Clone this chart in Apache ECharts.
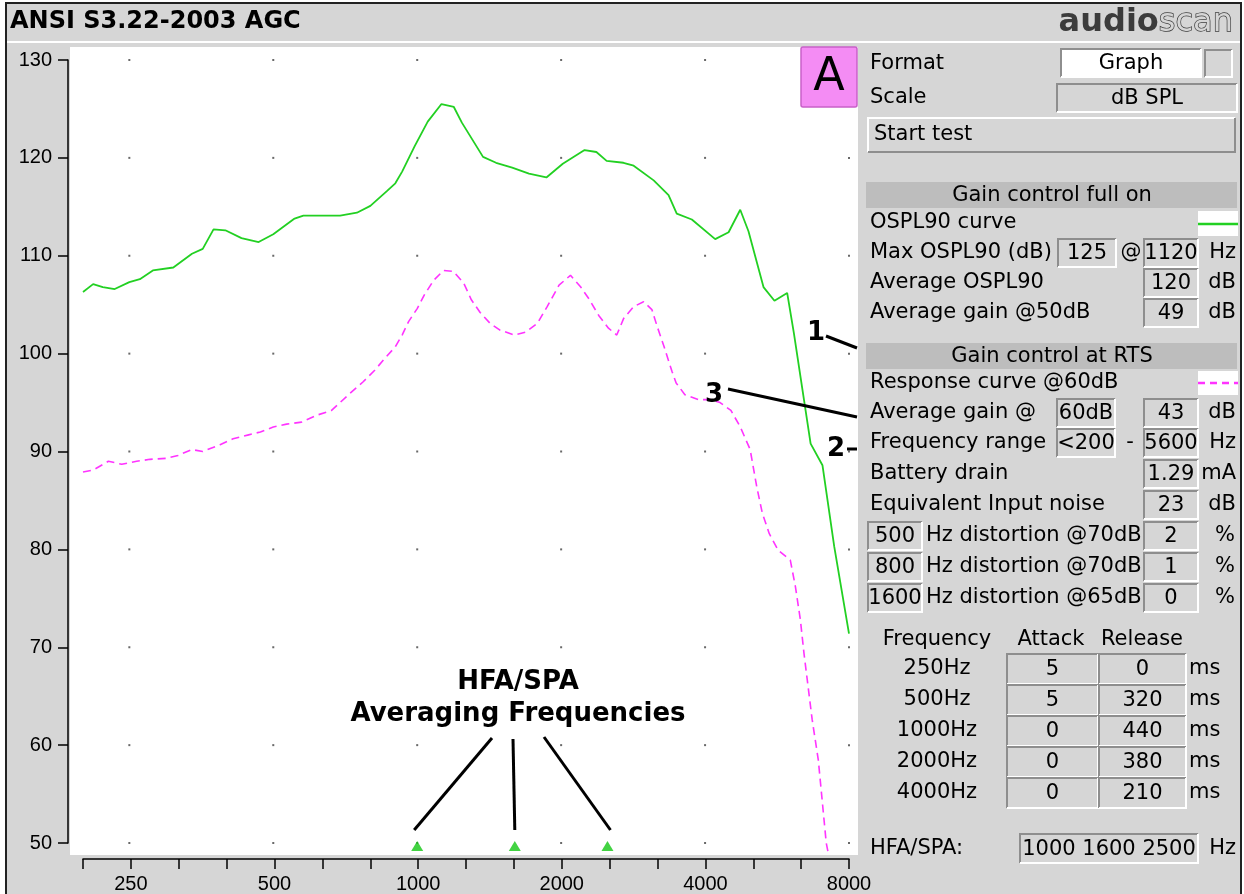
<!DOCTYPE html>
<html>
<head>
<meta charset="utf-8">
<title>ANSI S3.22-2003 AGC</title>
<script src="https://cdn.jsdelivr.net/npm/echarts@6/dist/echarts.min.js"></script>
<style>
  html, body { margin: 0; padding: 0; background: #fff; }
  #chart { width: 1244px; height: 894px; }
</style>
</head>
<body>
<div id="chart"></div>
<script>
// OSPL90 curve (gain control full on), Hz / dB SPL
const osplFreq = [200, 210, 220, 233, 250, 263, 280, 309, 338, 356, 375, 397, 429, 466, 500, 554, 578, 690, 748, 798,
  864, 900, 930, 988, 1052, 1124, 1193, 1240, 1373, 1462, 1580, 1713, 1863, 2016, 2239, 2370, 2490, 2700, 2836, 3123,
  3355, 3490, 3753, 4200, 4480, 4738, 4930, 5300, 5587, 5940, 6135, 6440, 6650, 7040, 7450, 8000]
const osplDb = [106.3, 107.1, 106.8, 106.6, 107.3, 107.6, 108.5, 108.8, 110.2, 110.7, 112.7, 112.6, 111.8, 111.4, 112.2, 113.8, 114.1, 114.1, 114.4, 115.1,
  116.6, 117.4, 118.6, 121.2, 123.7, 125.5, 125.2, 123.6, 120.1, 119.5, 119.0, 118.4, 118.0, 119.4, 120.8, 120.6, 119.7, 119.5, 119.2, 117.7,
  116.2, 114.3, 113.7, 111.7, 112.4, 114.7, 112.5, 106.8, 105.4, 106.2, 102.1, 95.3, 90.8, 88.6, 80.3, 71.4]

// response curve @60dB (gain control at RTS)
const respFreq = [200, 210, 226, 241, 259, 276, 298, 316, 338, 356, 387, 412, 444, 470, 500, 533, 573, 616, 662, 722,
  770, 815, 855, 900, 930, 960, 1000, 1035, 1083, 1135, 1190, 1251, 1298, 1354, 1420, 1490, 1597, 1687, 1784, 1870,
  1980, 2092, 2198, 2286, 2397, 2512, 2614, 2703, 2836, 2975, 3096, 3175, 3284, 3410, 3480, 3630, 3870, 4100, 4300, 4530,
  4740, 4970, 5130, 5270, 5450, 5690, 6030, 6180, 6330, 6440, 6700, 6900, 7170, 7250]
const respDb = [87.9, 88.1, 89.0, 88.7, 89.0, 89.2, 89.3, 89.6, 90.2, 90.0, 90.7, 91.3, 91.7, 92.0, 92.5, 92.8, 93.0, 93.7, 94.2, 95.9,
  97.1, 98.3, 99.5, 100.7, 101.9, 103.3, 104.6, 106.0, 107.5, 108.5, 108.4, 107.2, 105.5, 104.2, 103.1, 102.4, 101.9, 102.2, 103.1, 104.8,
  107.0, 108.0, 106.8, 105.6, 103.9, 102.6, 101.9, 103.6, 104.8, 105.3, 104.5, 102.8, 100.7, 98.2, 97.0, 95.8, 95.3, 95.3, 95.0, 94.2,
  92.5, 90.2, 86.4, 83.7, 81.6, 79.9, 78.9, 76.2, 72.8, 69.4, 62.6, 58.5, 50.0, 48.8]

// HFA/SPA averaging frequencies
const hfaFreq = [1000, 1600, 2500]

// axes
const thirdOctaves = ['200', '250', '315', '400', '500', '630', '800', '1000', '1250', '1600', '2000', '2500', '3150', '4000', '5000', '6300', '8000']
const octaveLabels = ['250', '500', '1000', '2000', '4000', '8000']
const dotFreqs = [250, 500, 1000, 2000, 4000, 8000]
const levelTicks = [50, 60, 70, 80, 90, 100, 110, 120, 130]

// right panel values
const distFreqs = ['500', '800', '1600']
const distLevels = ['@70dB', '@70dB', '@65dB']
const distPct = ['2', '1', '0']
const timingFreqs = ['250Hz', '500Hz', '1000Hz', '2000Hz', '4000Hz']
const attackMs = ['5', '5', '0', '0', '0']
const releaseMs = ['0', '320', '440', '380', '210']

const PANEL = '#d6d6d6'
const DARK = '#8e8e8e'
const LIGHT = '#ffffff'
const HEADER = '#bdbdbd'
const GREEN = '#22d022'
const PINK = '#ff33ff'
const UI = '"DejaVu Sans", sans-serif'
const AXISFONT = '"Liberation Sans", Arial, sans-serif'

const chart = echarts.init(document.getElementById('chart'))

const dots = []
dotFreqs.forEach(f => levelTicks.forEach(l => dots.push([f, l])))

chart.setOption({
  animation: false,
  backgroundColor: '#fff',
  grid: { left: 83, top: 60, width: 766, height: 783, outerBoundsMode: 'none', containLabel: false },
  xAxis: [
    { type: 'log', logBase: 2, min: 200, max: 8000, position: 'top', show: false },
    {
      type: 'category', data: thirdOctaves, boundaryGap: false, position: 'bottom', offset: 16,
      axisLine: { lineStyle: { color: '#000', width: 1.5 } },
      axisTick: { interval: 0, length: 10, lineStyle: { color: '#000', width: 1.5 } },
      axisLabel: {
        interval: 0, margin: 15, color: '#000', fontFamily: AXISFONT, fontSize: 20,
        showMinLabel: true, showMaxLabel: true,
        formatter: v => octaveLabels.includes(v) ? v : ''
      },
      splitLine: { show: false }
    }
  ],
  yAxis: {
    type: 'value', min: 50, max: 130, interval: 10, position: 'left', offset: 15,
    axisLine: { show: true, lineStyle: { color: '#000', width: 1.5 } },
    axisTick: { show: true, length: 10, lineStyle: { color: '#000', width: 1.5 } },
    axisLabel: { margin: 16, color: '#000', fontFamily: AXISFONT, fontSize: 20 },
    splitLine: { show: false }
  },
  series: [
    {
      name: 'grid dots', type: 'scatter', xAxisIndex: 0, data: dots, symbol: 'rect', symbolSize: 2,
      itemStyle: { color: '#444' }, silent: true, z: 1
    },
    {
      name: 'OSPL90 curve', type: 'line', xAxisIndex: 0, showSymbol: false,
      data: osplFreq.map((f, i) => [f, osplDb[i]]),
      lineStyle: { color: GREEN, width: 1.8 }
    },
    {
      name: 'Response curve @60dB', type: 'line', xAxisIndex: 0, showSymbol: false, clip: false,
      data: respFreq.map((f, i) => [f, respDb[i]]),
      lineStyle: { color: PINK, width: 1.6, type: [8, 5] }
    },
    {
      name: 'HFA/SPA', type: 'scatter', xAxisIndex: 0, clip: false, symbol: 'triangle', symbolSize: [12, 10],
      symbolOffset: [0, 3], itemStyle: { color: '#14c814' },
      data: hfaFreq.map(f => [f, 50])
    }
  ]
})

// ---------- graphic overlay: page, panel, annotations ----------
const elements = []
let order = 0
function add(el, z) {
  el.z = z == null ? 5 : z
  el.z2 = order++
  el.silent = true
  elements.push(el)
}
function label(x, y, s, align, font) {
  add({
    type: 'text', x: x, y: y,
    style: {
      text: s, font: font || ('21px ' + UI), fill: '#000',
      align: align || 'left', verticalAlign: 'middle',
      textAlign: align || 'left', textVerticalAlign: 'middle'
    }
  })
}
function bevel(x, y, w, h, fill, raised) {
  add({ type: 'rect', shape: { x: x, y: y, width: w, height: h }, style: { fill: fill } })
  add({ type: 'polyline', shape: { points: [[x, y + h], [x, y], [x + w, y]] }, style: { stroke: raised ? LIGHT : DARK, lineWidth: 2, fill: null } })
  add({ type: 'polyline', shape: { points: [[x + w, y], [x + w, y + h], [x, y + h]] }, style: { stroke: raised ? DARK : LIGHT, lineWidth: 2, fill: null } })
}
function field(x, y, w, h, s, fill) {
  bevel(x, y, w, h, fill || PANEL, false)
  label(x + w / 2, y + h / 2 + 1, s, 'center')
}
function seg(x1, y1, x2, y2, color, width, dash) {
  add({
    type: 'line', shape: { x1: x1, y1: y1, x2: x2, y2: y2 },
    style: { stroke: color, lineWidth: width, lineDash: dash || null }
  }, 10)
}

// page and plot background
add({ type: 'rect', shape: { x: 6, y: 3, width: 1235, height: 900 }, style: { fill: PANEL, stroke: '#222', lineWidth: 2 } }, -20)
add({ type: 'rect', shape: { x: 70, y: 47, width: 788, height: 808 }, style: { fill: '#fff' } }, -19)
add({ type: 'line', shape: { x1: 7, y1: 42, x2: 1240, y2: 42 }, style: { stroke: '#fff', lineWidth: 2 } }, -18)

// title bar
label(10, 22, 'ANSI S3.22-2003 AGC', 'left', 'bold 24px ' + UI)
add({
  type: 'text', x: 1233, y: 23,
  style: {
    text: '{a|audio}{b|scan}', align: 'right', verticalAlign: 'middle', textAlign: 'right', textVerticalAlign: 'middle',
    rich: {
      a: { font: 'bold 32px ' + UI, fill: '#3c3c3c' },
      b: { font: '32px ' + UI, fill: PANEL, stroke: '#3c3c3c', lineWidth: 1.4 }
    }
  }
})

// "A" button
add({ type: 'rect', shape: { x: 801, y: 47, width: 56, height: 60, r: 2 }, style: { fill: '#f48cf4', stroke: '#c860c8', lineWidth: 1.5 } })
label(829, 78, 'A', 'center', '46px ' + UI)

// format / scale / start test
label(870, 64, 'Format')
field(1061, 49, 140, 28, 'Graph', '#fff')
bevel(1205, 50, 27, 27, PANEL, false)
label(870, 98, 'Scale')
field(1057, 84, 180, 28, 'dB SPL')
bevel(868, 118, 367, 34, PANEL, true)
label(874, 135, 'Start test')

// gain control full on
add({ type: 'rect', shape: { x: 866, y: 182, width: 371, height: 26 }, style: { fill: HEADER } })
label(1052, 196, 'Gain control full on', 'center')
label(870, 223, 'OSPL90 curve')
add({ type: 'rect', shape: { x: 1198, y: 211, width: 40, height: 25 }, style: { fill: '#fff' } })
seg(1198, 224, 1238, 224, GREEN, 2.5)
label(870, 253, 'Max OSPL90 (dB)')
field(1058, 239, 58, 28, '125')
label(1131, 253, '@', 'center')
field(1144, 239, 54, 28, '1120')
label(1236, 253, 'Hz', 'right')
label(870, 283, 'Average OSPL90')
field(1144, 269, 54, 28, '120')
label(1236, 283, 'dB', 'right')
label(870, 313, 'Average gain @50dB')
field(1144, 299, 54, 28, '49')
label(1236, 313, 'dB', 'right')

// gain control at RTS
add({ type: 'rect', shape: { x: 866, y: 343, width: 371, height: 26 }, style: { fill: HEADER } })
label(1052, 357, 'Gain control at RTS', 'center')
label(870, 383, 'Response curve @60dB')
add({ type: 'rect', shape: { x: 1198, y: 371, width: 40, height: 24 }, style: { fill: '#fff' } })
seg(1198, 383, 1238, 383, PINK, 2.5, [7, 5])
label(870, 413, 'Average gain @')
field(1057, 399, 58, 28, '60dB')
field(1144, 399, 54, 28, '43')
label(1236, 413, 'dB', 'right')
label(870, 443, 'Frequency range')
field(1057, 429, 58, 28, '<200')
label(1130, 443, '-', 'center')
field(1144, 429, 54, 28, '5600')
label(1236, 443, 'Hz', 'right')
label(870, 474, 'Battery drain')
field(1144, 460, 54, 28, '1.29')
label(1236, 474, 'mA', 'right')
label(870, 505, 'Equivalent Input noise')
field(1144, 491, 54, 28, '23')
label(1236, 505, 'dB', 'right')
distFreqs.forEach((f, i) => {
  const y = 536 + i * 31
  field(868, y - 14, 54, 28, f)
  label(926, y, 'Hz distortion ' + distLevels[i])
  field(1144, y - 14, 54, 28, distPct[i])
  label(1225, y, '%', 'center')
})

// attack / release table
label(937, 640, 'Frequency', 'center')
label(1051, 640, 'Attack', 'center')
label(1142, 640, 'Release', 'center')
timingFreqs.forEach((f, i) => {
  const y = 669 + i * 31
  label(937, y, f, 'center')
  field(1007, y - 15, 91, 30, attackMs[i])
  field(1099, y - 15, 87, 30, releaseMs[i])
  label(1189, y, 'ms')
})
label(870, 849, 'HFA/SPA:')
field(1020, 834, 178, 29, hfaFreq.join(' '))
label(1236, 849, 'Hz', 'right')

// curve annotations
const BOLD = 'bold 26px ' + UI
label(816, 333, '1', 'center', BOLD)
seg(826, 336, 857, 348, '#000', 3)
label(714, 395, '3', 'center', BOLD)
seg(728, 389, 857, 417, '#000', 3)
label(836, 449, '2', 'center', BOLD)
seg(847, 449, 857, 449, '#000', 3)

// HFA/SPA callout, lines end just above the triangles
label(518, 682, 'HFA/SPA', 'center', BOLD)
label(518, 714, 'Averaging Frequencies', 'center', BOLD)
const tops = [[492, 738], [513, 739], [544, 737]]
hfaFreq.forEach((f, i) => {
  const p = chart.convertToPixel({ xAxisIndex: 0, yAxisIndex: 0 }, [f, 50])
  seg(tops[i][0], tops[i][1], p[0] + (i - 1) * 3, p[1] - 13, '#000', 3)
})

chart.setOption({ graphic: { elements: elements } })
</script>
</body>
</html>
